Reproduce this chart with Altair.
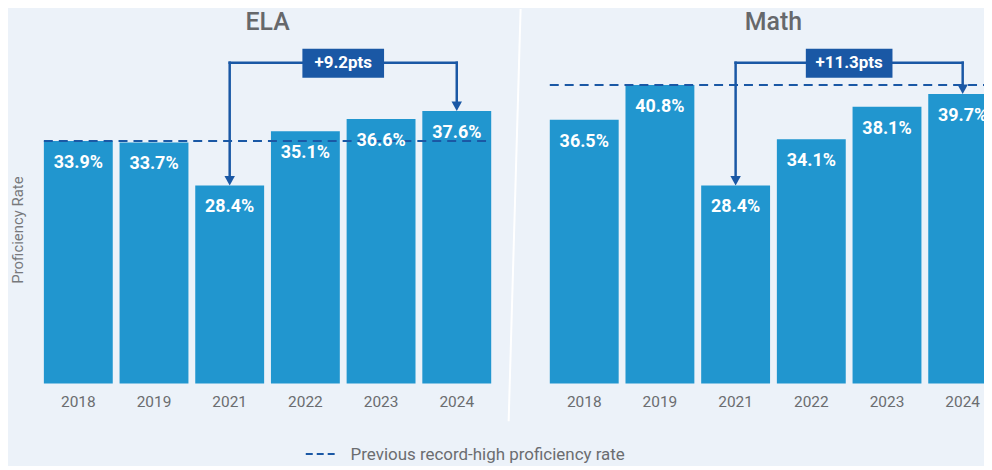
import altair as alt
import pandas as pd

# ---- data ----
years = ["2018", "2019", "2021", "2022", "2023", "2024"]
ela_values = [33.9, 33.7, 28.4, 35.1, 36.6, 37.6]
math_values = [36.5, 40.8, 28.4, 34.1, 38.1, 39.7]
subjects = ["ELA", "Math"]
record_high = [33.9, 40.8]
gain_labels = ["+9.2pts", "+11.3pts"]
low_year = "2021"
high_year = "2024"
axis_title = "Proficiency Rate"
legend_label = "Previous record-high proficiency rate"

# ---- styling / layout ----
BAR = "#2196cf"
DARK = "#1a58a5"
BG = "#ecf2f9"
GRAY = "#6b6d70"
FONT = "Roboto"
H = 342                 # plot height
W = 947.4               # visible plot width (right panel is cut by the page edge)
PANEL = 456             # width of one panel's band
GAP = 52                # gap between panels
STEP = 76               # bar step inside a panel
Y_DOMAIN = [4, 46]
BOX_W = {"ELA": 82, "Math": 87}
LEG_Y = 414

values_by_subject = {"ELA": ela_values, "Math": math_values}
rows = []
for s in subjects:
    for yr, v in zip(years, values_by_subject[s]):
        rows.append({"subject": s, "year": yr, "value": v, "label": f"{v:.1f}%"})
df = pd.DataFrame(rows)
rec_df = pd.DataFrame({"subject": subjects, "record": record_high})
ann_df = pd.DataFrame({"subject": subjects, "gain": gain_labels})
arr_df = df[df["year"].isin([low_year, high_year])]

x = alt.X("subject:N", axis=None,
          scale=alt.Scale(domain=subjects, range=[0, 2 * PANEL + GAP],
                          paddingInner=GAP / (PANEL + GAP), paddingOuter=0))
xo = alt.XOffset("year:N", scale=alt.Scale(domain=years, paddingInner=0.09, paddingOuter=0.045))
ysc = alt.Scale(domain=Y_DOMAIN, zero=False, nice=False)
y = alt.Y("value:Q", scale=ysc, axis=None)

i_low = years.index(low_year)
i_high = years.index(high_year)
off_low = (i_low + 0.5 - len(years) / 2) * STEP
off_high = (i_high + 0.5 - len(years) / 2) * STEP
off_mid = (off_low + off_high) / 2

base = alt.Chart(df)
bars = base.mark_bar(color=BAR).encode(x=x, xOffset=xo, y=y, y2=alt.datum(Y_DOMAIN[0]))
rec = alt.Chart(rec_df).mark_rule(color=DARK, strokeWidth=2, strokeDash=[9, 6],
                                  xOffset=-(PANEL / 2 - 3.4), x2Offset=PANEL / 2 - 3.4).encode(
    x=x, x2=alt.X2("subject:N"), y=alt.Y("record:Q", scale=ysc, axis=None))
labels = base.mark_text(color="white", font=FONT, fontSize=18, fontWeight="bold",
                        baseline="middle", dy=22).encode(x=x, xOffset=xo, y=y, text="label:N")
year_labels = base.mark_text(color=GRAY, font=FONT, fontSize=15.5, baseline="middle").encode(
    x=x, xOffset=xo, y=alt.value(361), text="year:N")

stems = alt.Chart(arr_df).mark_rule(color=DARK, strokeWidth=2.5, yOffset=-6, strokeCap="square").encode(
    x=x, xOffset=xo, y=y, y2=alt.value(20))
heads = alt.Chart(arr_df).mark_point(shape="M-1,-1.8L1,-1.8L0,0Z", size=110, filled=True,
                                     opacity=1, color=DARK).encode(x=x, xOffset=xo, y=y)
bracket = alt.Chart(ann_df).mark_rule(color=DARK, strokeWidth=2.5, strokeCap="square",
                                      xOffset=off_low, x2Offset=off_high).encode(
    x=x, x2=alt.X2("subject:N"), y=alt.value(20))
boxes = [
    alt.Chart(ann_df).transform_filter(alt.datum.subject == s).mark_bar(
        color=DARK, width=BOX_W[s], xOffset=off_mid).encode(x=x, y=alt.value(6), y2=alt.value(35))
    for s in subjects
]
box_text = alt.Chart(ann_df).mark_text(color="white", font=FONT, fontSize=17, fontWeight="bold",
                                       baseline="middle", xOffset=off_mid).encode(
    x=x, y=alt.value(20.5), text="gain:N")
titles = alt.Chart(ann_df).mark_text(font=FONT, fontSize=25, fontWeight=500, color="#66686b",
                                     baseline="middle").encode(x=x, y=alt.value(-20.5), text="subject:N")

one = pd.DataFrame({"a": [0]})
yt = alt.Chart(pd.DataFrame({"t": [axis_title]})).mark_text(
    font=FONT, fontSize=15, color="#77797c", angle=270, baseline="middle").encode(
    x=alt.value(-23), y=alt.value(188), text="t:N")
sep = alt.Chart(one).mark_rule(color="white", strokeWidth=2).encode(
    x=alt.value(482.1), y=alt.value(-34), x2=alt.value(470.1), y2=alt.value(380))
leg_line = alt.Chart(one).mark_rule(color=DARK, strokeWidth=2, strokeDash=[7, 4]).encode(
    x=alt.value(266.4), x2=alt.value(295.4), y=alt.value(LEG_Y - 1))
leg_text = alt.Chart(pd.DataFrame({"t": [legend_label]})).mark_text(
    font=FONT, fontSize=17, color=GRAY, align="left", baseline="middle").encode(
    x=alt.value(311.4), y=alt.value(LEG_Y), text="t:N")

chart = alt.layer(
    sep, bars, rec, labels, year_labels, stems, bracket, heads, *boxes, box_text, titles,
    yt, leg_line, leg_text
).properties(
    width=W, height=H,
    autosize=alt.AutoSizeParams(type="none"),
    padding={"left": 32.6, "top": 34, "right": 0, "bottom": 82},
    background=BG,
).configure_view(stroke=None)

chart.save("out.html", embed_options={"renderer": "svg", "actions": False})
